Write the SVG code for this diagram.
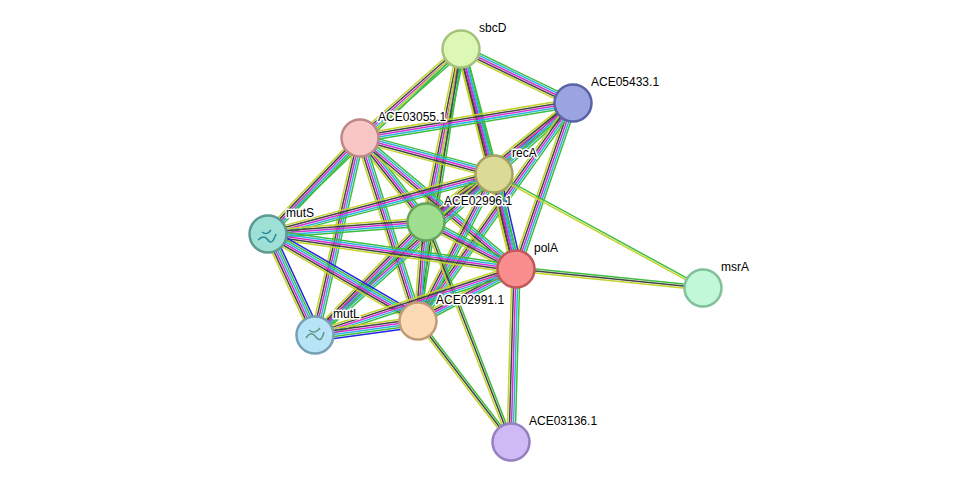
<svg xmlns="http://www.w3.org/2000/svg" width="975" height="488" viewBox="0 0 975 488">
<style>
line{vector-effect:non-scaling-stroke;stroke-width:1.5}
.g{stroke:#3dbd3d}.y{stroke:#c4d32a}.c{stroke:#2ab5dc}.m{stroke:#d42ed4}.k{stroke:#444}.b{stroke:#2323e6}
circle{stroke-width:2.5}
text{font-family:"Liberation Sans",Arial,sans-serif;font-size:12px;fill:#000;stroke:#fff;stroke-width:3px;paint-order:stroke;stroke-linejoin:round}
</style>
<defs>
<g id="b5"><line class="g" x1="0" y1="-4" x2="1" y2="-4"/><line class="c" x1="0" y1="-2" x2="1" y2="-2"/><line class="m" x1="0" y1="0" x2="1" y2="0"/><line class="k" x1="0" y1="2" x2="1" y2="2"/><line class="y" x1="0" y1="4" x2="1" y2="4"/></g>
<g id="b6"><line class="b" x1="0" y1="-6" x2="1" y2="-6"/><use href="#b5"/></g>
<g id="b2"><line class="g" x1="0" y1="-1" x2="1" y2="-1"/><line class="y" x1="0" y1="1" x2="1" y2="1"/></g>
<g id="b3"><line class="g" x1="0" y1="-2" x2="1" y2="-2"/><line class="k" x1="0" y1="0" x2="1" y2="0"/><line class="y" x1="0" y1="2" x2="1" y2="2"/></g>
</defs>
<rect width="975" height="488" fill="#fff"/>
<g id="edges">
<use href="#b5" transform="matrix(112,54,-0.434,0.901,461,49)"/>
<use href="#b5" transform="matrix(-101,89,-0.661,-0.750,461,49)"/>
<use href="#b5" transform="matrix(33,125,-0.967,0.255,461,49)"/>
<use href="#b5" transform="matrix(55,220,-0.970,0.243,461,49)"/>
<use href="#b5" transform="matrix(-35,173,-0.980,-0.198,461,49)"/>
<use href="#b2" transform="matrix(-193,185,-0.692,-0.722,461,49)"/>
<use href="#b3" transform="matrix(-43,272,-0.988,-0.156,461,49)"/>
<use href="#b5" transform="matrix(-213,35,-0.162,-0.987,573,103)"/>
<use href="#b5" transform="matrix(-79,71,-0.669,-0.744,573,103)"/>
<use href="#b5" transform="matrix(-147,119,-0.629,-0.777,573,103)"/>
<use href="#b5" transform="matrix(-57,166,-0.946,-0.325,573,103)"/>
<use href="#b5" transform="matrix(-155,218,-0.815,-0.579,573,103)"/>
<use href="#b5" transform="matrix(134,36,-0.259,0.966,360,138)"/>
<use href="#b5" transform="matrix(66,84,-0.786,0.618,360,138)"/>
<use href="#b5" transform="matrix(156,131,-0.643,0.766,360,138)"/>
<use href="#b5" transform="matrix(58,183,-0.953,0.302,360,138)"/>
<use href="#b5" transform="matrix(-92,96,-0.722,-0.692,360,138)"/>
<use href="#b5" transform="matrix(-45,197,-0.975,-0.223,360,138)"/>
<use href="#b5" transform="matrix(-68,48,-0.577,-0.817,494,174)"/>
<use href="#b6" transform="matrix(22,95,-0.974,0.226,494,174)"/>
<use href="#b5" transform="matrix(-226,60,-0.257,-0.967,494,174)"/>
<use href="#b5" transform="matrix(-76,147,-0.888,-0.459,494,174)"/>
<use href="#b5" transform="matrix(-179,161,-0.669,-0.743,494,174)"/>
<use href="#b2" transform="matrix(209,114,-0.479,0.878,494,174)"/>
<use href="#b5" transform="matrix(90,47,-0.463,0.887,426,222)"/>
<use href="#b5" transform="matrix(-158,12,-0.076,-0.997,426,222)"/>
<use href="#b5" transform="matrix(-8,99,-0.997,-0.081,426,222)"/>
<use href="#b5" transform="matrix(-111,113,-0.713,-0.701,426,222)"/>
<use href="#b3" transform="matrix(85,220,-0.933,0.360,426,222)"/>
<use href="#b5" transform="matrix(248,35,-0.140,0.990,268,234)"/>
<use href="#b6" transform="matrix(150,87,-0.502,0.865,268,234)"/>
<use href="#b6" transform="matrix(47,101,-0.907,0.422,268,234)"/>
<use href="#b3" transform="matrix(187,19,-0.101,0.995,516,269)"/>
<use href="#b5" transform="matrix(-98,52,-0.469,-0.884,516,269)"/>
<use href="#b5" transform="matrix(-201,66,-0.312,-0.950,516,269)"/>
<use href="#b5" transform="matrix(-5,173,-0.999,-0.029,516,269)"/>
<use href="#b6" transform="matrix(-103,14,-0.135,-0.991,418,321)"/>
<use href="#b3" transform="matrix(93,121,-0.793,0.609,418,321)"/>
</g>
<g id="sbcD"><circle cx="461" cy="49" r="18.5" fill="#dcf8b4" stroke="#a5c27c"/><text x="479" y="32">sbcD</text></g>
<g id="ACE05433.1"><circle cx="573" cy="103" r="18.5" fill="#9ba3e0" stroke="#5a63a8"/><text x="591" y="86">ACE05433.1</text></g>
<g id="ACE03055.1"><circle cx="360" cy="138" r="18.5" fill="#f8c6c4" stroke="#bf8886"/><text x="378" y="121">ACE03055.1</text></g>
<g id="recA"><circle cx="494" cy="174" r="18.5" fill="#dcdb96" stroke="#a3a262"/><text x="512" y="157">recA</text></g>
<g id="ACE02996.1"><circle cx="426" cy="222" r="18.5" fill="#9ede8e" stroke="#66a35c"/><text x="444" y="205">ACE02996.1</text></g>
<g id="mutS"><circle cx="268" cy="234" r="18.5" fill="#9ee0d6" stroke="#5c9a92"/><path d="M258 240q6-6 10 0t8-6M262 232q5 4 9-2" fill="none" stroke="#2e8a9a" stroke-width="1.5"/><text x="286" y="217">mutS</text></g>
<g id="polA"><circle cx="516" cy="269" r="18.5" fill="#fa8e8e" stroke="#c05858"/><text x="534" y="252">polA</text></g>
<g id="msrA"><circle cx="703" cy="288" r="18.5" fill="#c0f8d8" stroke="#80c09a"/><text x="721" y="271">msrA</text></g>
<g id="ACE02991.1"><circle cx="418" cy="321" r="18.5" fill="#fddab6" stroke="#c19b76"/><text x="436" y="304">ACE02991.1</text></g>
<g id="mutL"><circle cx="315" cy="335" r="18.5" fill="#b8e4f8" stroke="#789fb4"/><path d="M306 338q5-8 10-1t8-5M309 330q6 5 11-2" fill="none" stroke="#5a9a8a" stroke-width="1.5"/><text x="333" y="318">mutL</text></g>
<g id="ACE03136.1"><circle cx="511" cy="442" r="18.5" fill="#cfbaf6" stroke="#9580c0"/><text x="529" y="425">ACE03136.1</text></g>
</svg>
